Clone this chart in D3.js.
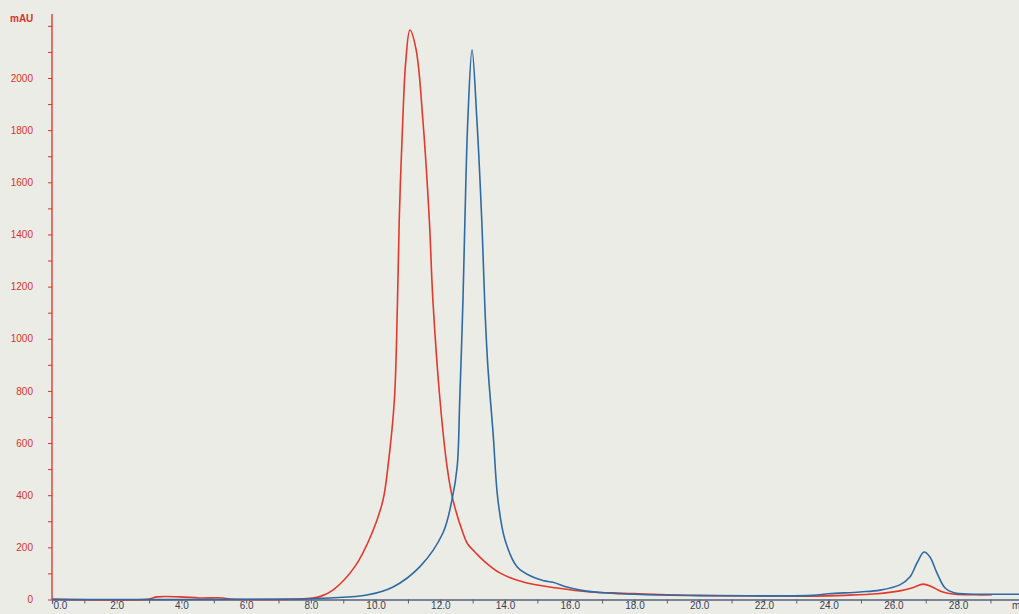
<!DOCTYPE html>
<html>
<head>
<meta charset="utf-8">
<script src="https://cdn.jsdelivr.net/npm/d3@7"></script>
<style>
  body { margin: 0; background: #ecece6; overflow: hidden; }
  svg { display: block; }
  text { font-family: "Liberation Sans", Arial, sans-serif; }
</style>
</head>
<body>
<div class="chartBoard"></div>
<script>
// retention time (min) and absorbance (mAU)
const redTime = [0, 3.0, 3.24, 3.96, 4.57, 5.28, 5.5, 7.66, 8.06, 8.3, 8.68, 9.36, 9.89, 10.23, 10.38, 10.58, 10.67, 10.73, 10.84, 10.93, 11.06, 11.25, 11.46, 11.66, 11.77, 11.99, 12.21, 12.39, 12.7, 12.85, 13.07, 13.32, 13.84, 14.56, 15.61, 16.63, 17.65, 19.0, 20.5, 22.0, 23.5, 24.5, 25.5, 26.2, 26.6, 26.92, 27.2, 27.5, 27.9, 28.5, 29.05];
const redMAU  = [2, 2, 10, 10, 6, 6, 2, 2, 6, 12, 36, 126, 255, 382, 508, 765, 1110, 1456, 1840, 2060, 2184, 2110, 1840, 1456, 1149, 765, 508, 382, 255, 212, 182, 151, 102, 67, 44, 29, 24, 18, 15, 14, 13, 16, 22, 33, 45, 59, 48, 30, 20, 18, 18];

const blueTime = [0, 7.66, 8.59, 9.73, 10.54, 11.37, 12.08, 12.36, 12.52, 12.6, 12.7, 12.76, 12.85, 12.98, 13.13, 13.28, 13.38, 13.47, 13.63, 13.78, 14.0, 14.37, 14.86, 15.2, 15.48, 15.91, 16.32, 17.15, 18.0, 20.0, 22.0, 23.5, 24.0, 24.97, 25.59, 26.2, 26.51, 26.73, 26.95, 27.13, 27.35, 27.6, 27.9, 28.28, 29.0, 30.0];
const blueMAU  = [0, 2, 6, 17, 48, 126, 255, 382, 508, 765, 1149, 1456, 1840, 2108, 1840, 1456, 1110, 892, 639, 382, 228, 126, 86, 72, 66, 48, 36, 25, 20, 15, 14, 16, 22, 29, 36, 56, 86, 140, 182, 163, 101, 44, 25, 21, 20, 20];

const xTickLabels = [0, 2, 4, 6, 8, 10, 12, 14, 16, 18, 20, 22, 24, 26, 28];
const yTickLabels = [0, 200, 400, 600, 800, 1000, 1200, 1400, 1600, 1800, 2000];

const w = 1019, h = 614;
const redColor = "#e3382c", blueColor = "#2e6aa3", axisRed = "#d8322a";

const svg = d3.select(".chartBoard").append("svg")
    .attr("width", w)
    .attr("height", h);

const x = d3.scaleLinear().domain([0, 30]).range([52, 1022.8]);
const y = d3.scaleLinear().domain([0, 2000]).range([599.5, 78]);

// x axis: minor ticks every 1 min, labels every 2 min
const xAxis = d3.axisBottom(x)
    .tickValues(d3.range(0, 30, 1))
    .tickSize(4)
    .tickFormat(d => xTickLabels.includes(d) ? d3.format(".1f")(d) : "");

const gx = svg.append("g")
    .attr("transform", "translate(0," + y(0) + ")")
    .call(xAxis);
gx.select(".domain").attr("stroke", "#55607a").attr("stroke-width", 1.3);
gx.selectAll(".tick line").attr("stroke", "#55607a");
gx.selectAll(".tick text")
    .attr("y", 2)
    .attr("fill", "#3a3f55")
    .style("font-size", "10px");
// first label sits just right of the y axis
gx.selectAll(".tick text").filter(d => d === 0)
    .attr("text-anchor", "start")
    .attr("x", 1);

// unit label, cut by the right edge as in the original print
svg.append("text")
    .attr("x", 1012)
    .attr("y", 609)
    .attr("fill", "#3a3f55")
    .style("font-size", "10px")
    .text("min");

// y axis: minor ticks every 100 mAU, labels every 200
const yAxis = d3.axisLeft(y)
    .tickValues(d3.range(0, 2201, 100))
    .tickSize(4)
    .tickFormat(d => yTickLabels.includes(d) ? d : "");

const gy = svg.append("g")
    .attr("transform", "translate(" + x(0) + ",0)")
    .call(yAxis);
gy.select(".domain").remove();
gy.selectAll(".tick line").attr("stroke", axisRed);
gy.selectAll(".tick text")
    .attr("x", -19)
    .attr("fill", axisRed)
    .style("font-size", "10px");

svg.append("line")
    .attr("x1", x(0)).attr("x2", x(0))
    .attr("y1", 14).attr("y2", y(0))
    .attr("stroke", axisRed)
    .attr("stroke-width", 1.3);

svg.append("text")
    .attr("x", 10)
    .attr("y", 22)
    .attr("fill", axisRed)
    .style("font-size", "10px")
    .style("font-weight", "bold")
    .text("mAU");

// traces
const line = d3.line()
    .x(d => x(d[0]))
    .y(d => y(d[1]))
    .curve(d3.curveCatmullRom.alpha(0.5));

svg.append("path")
    .datum(d3.zip(redTime, redMAU))
    .attr("fill", "none")
    .attr("stroke", redColor)
    .attr("stroke-width", 1.6)
    .attr("d", line);

svg.append("path")
    .datum(d3.zip(blueTime, blueMAU))
    .attr("fill", "none")
    .attr("stroke", blueColor)
    .attr("stroke-width", 1.6)
    .attr("d", line);
</script>
</body>
</html>
